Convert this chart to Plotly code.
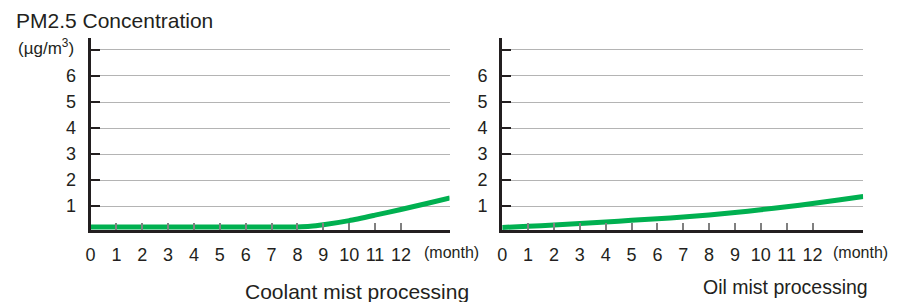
import plotly.graph_objects as go

# ---- data ----
months_tick = list(range(0, 13))
month_labels = [str(m) for m in months_tick]
y_ticks = [1, 2, 3, 4, 5, 6]
y_labels = ["1", "2", "3", "4", "5", "6"]
y_top_grid = [7]

coolant_x = [0, 1, 2, 3, 4, 5, 6, 7, 8, 8.5, 9, 10, 11, 12, 13, 13.9]
coolant_y = [0.2, 0.2, 0.2, 0.2, 0.2, 0.2, 0.2, 0.2, 0.2, 0.22, 0.28, 0.44, 0.65, 0.87, 1.1, 1.31]

oil_x = [0, 1, 2, 3, 4, 5, 6, 7, 8, 9, 10, 11, 12, 13, 13.96]
oil_y = [0.18, 0.22, 0.27, 0.33, 0.39, 0.45, 0.51, 0.58, 0.66, 0.75, 0.86, 0.97, 1.1, 1.23, 1.37]

title_text = "PM2.5 Concentration"
unit_text = "(µg/m<sup>3</sup>)"
month_unit = "(month)"
left_label = "Coolant mist processing"
right_label = "Oil mist processing"

# ---- figure ----
W, H = 901, 302
FONT = "Liberation Sans, Arial, sans-serif"
TXT = "#231f20"
GREEN = "#00b050"
GRID = "#b4b4b4"

fig = go.Figure()
fig.add_trace(go.Scatter(x=coolant_x, y=coolant_y, mode="lines",
                         line=dict(color=GREEN, width=5, shape="spline", smoothing=0.6),
                         xaxis="x", yaxis="y", showlegend=False, hoverinfo="skip"))
fig.add_trace(go.Scatter(x=oil_x, y=oil_y, mode="lines",
                         line=dict(color=GREEN, width=5, shape="spline", smoothing=0.6),
                         xaxis="x2", yaxis="y2", showlegend=False, hoverinfo="skip"))

def px_x(p):
    return p / W

def px_y(p):
    return 1 - p / H

ydom = [px_y(230), px_y(38)]
xcommon = dict(showgrid=False, zeroline=False, showline=True, linewidth=3, linecolor=TXT,
               ticks="inside", ticklen=7, tickwidth=1.5, tickcolor="#808080",
               tickvals=months_tick, ticktext=month_labels, ticklabelstandoff=6,
               tickfont=dict(family=FONT, size=18, color=TXT), fixedrange=True)
ycommon = dict(showgrid=True, gridcolor=GRID, gridwidth=1.2, zeroline=False,
               showline=True, linewidth=3, linecolor=TXT,
               ticks="inside", ticklen=9, tickwidth=1.5, tickcolor=TXT,
               tickvals=y_ticks, ticktext=y_labels, ticklabelstandoff=8,
               tickfont=dict(family=FONT, size=18, color=TXT),
               minor=dict(tickvals=y_top_grid, showgrid=True, gridcolor=GRID, gridwidth=1.2,
                          ticks="inside", ticklen=9, tickwidth=1.5, tickcolor=TXT),
               range=[0.08, 7.46], fixedrange=True)

fig.update_layout(
    width=W, height=H,
    margin=dict(l=0, r=0, t=0, b=0),
    paper_bgcolor="white", plot_bgcolor="white",
    xaxis=dict(domain=[px_x(86), px_x(447)], range=[0, 13.88], anchor="y", **xcommon),
    yaxis=dict(domain=ydom, anchor="x", **ycommon),
    xaxis2=dict(domain=[px_x(500), px_x(863)], range=[0, 13.96], anchor="y2", **xcommon),
    yaxis2=dict(domain=ydom, anchor="x2", **ycommon),
    font=dict(family=FONT, color=TXT),
)

ann = [
    dict(text=title_text, x=px_x(9), y=px_y(20), xanchor="left", yanchor="middle", font=dict(size=21)),
    dict(text=unit_text, x=px_x(41), y=px_y(47), xanchor="center", yanchor="middle", font=dict(size=17)),
    dict(text=month_unit, x=px_x(449), y=px_y(253), xanchor="center", yanchor="middle", font=dict(size=16)),
    dict(text=month_unit, x=px_x(860), y=px_y(253), xanchor="center", yanchor="middle", font=dict(size=16)),
    dict(text=left_label, x=px_x(354), y=px_y(291), xanchor="center", yanchor="middle", font=dict(size=21)),
    dict(text=right_label, x=px_x(785), y=px_y(287), xanchor="center", yanchor="middle", font=dict(size=19.5)),
]
for a in ann:
    a.update(xref="paper", yref="paper", showarrow=False)
    a["font"].update(family=FONT, color=TXT)
fig.update_layout(annotations=ann)

fig.write_html("out.html", config={"displayModeBar": False},
               post_script="document.body.style.margin='0';document.body.style.padding='0';")
